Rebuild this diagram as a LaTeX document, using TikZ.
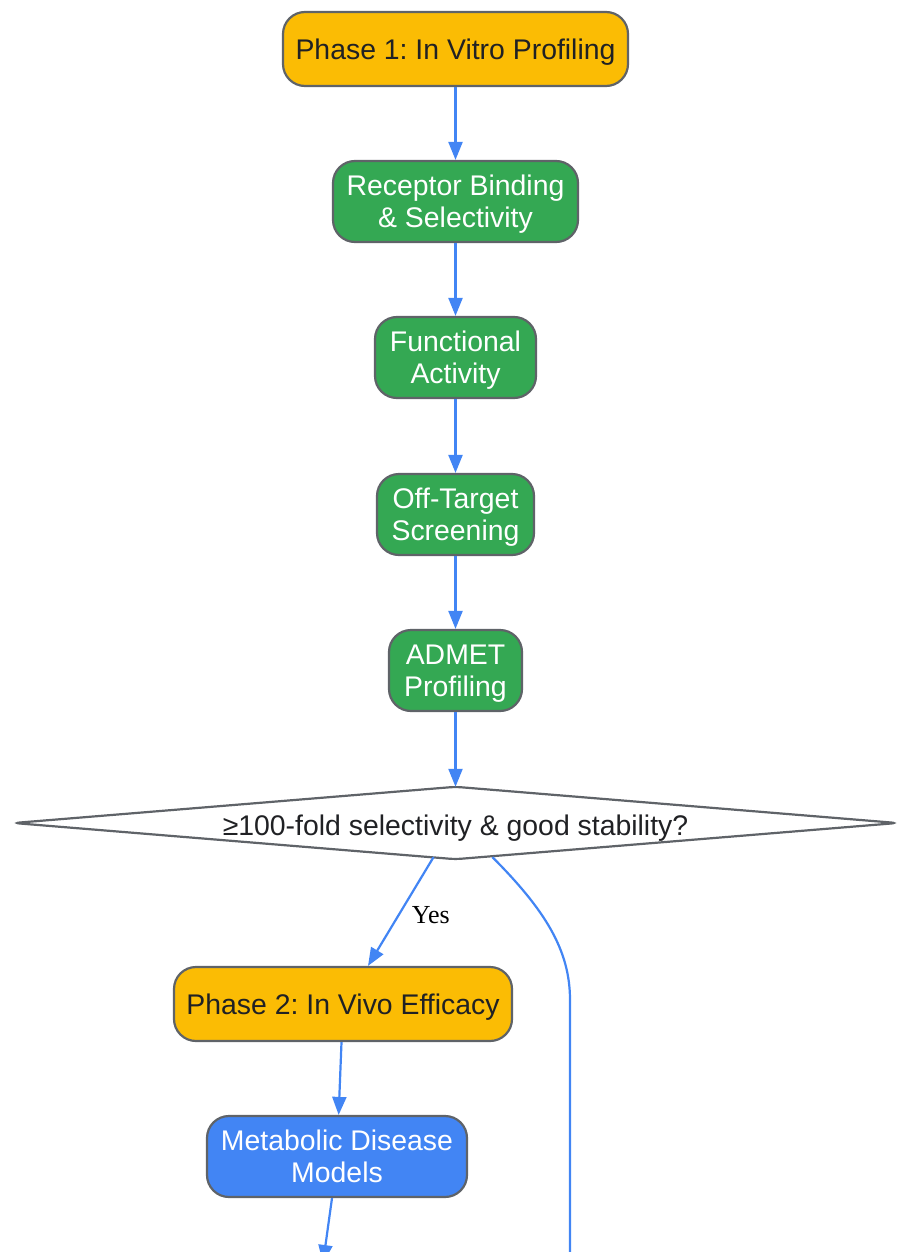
\documentclass[tikz,border=0pt]{standalone}
\usepackage{fontspec}
\setmainfont{Liberation Sans}
\newfontfamily\yesfont{Liberation Serif}
\frenchspacing
\usetikzlibrary{arrows.meta}
\definecolor{gyellow}{HTML}{FBBC04}
\definecolor{ggreen}{HTML}{34A853}
\definecolor{gblue}{HTML}{4285F4}
\definecolor{gborder}{HTML}{5F6368}
\definecolor{gtext}{HTML}{202124}
\tikzset{
  box/.style={draw=gborder, line width=2.2pt, rounded corners=22pt, align=center, inner sep=0pt,
    text depth=0pt, font=\fontsize{28.4}{32}\selectfont},
  phasebox/.style={box, fill=gyellow, text=gtext, minimum height=74pt},
  greenbox/.style={box, fill=ggreen, text=white, minimum height=81pt},
  bluebox/.style={box, fill=gblue, text=white, minimum height=81pt},
  decision/.style={inner sep=0pt, text=gtext, minimum width=883pt, minimum height=72pt,
    text depth=0pt, font=\fontsize{28.4}{32}\selectfont},
  decisionshape/.style={draw=gborder, line width=2.2pt, fill=white, rounded corners=6pt},
  flow/.style={draw=gblue, line width=2.2pt, -{Triangle[length=18pt,width=14pt]}},
  flowline/.style={draw=gblue, line width=2.2pt},
  yeslabel/.style={font=\yesfont\fontsize{26}{30}\selectfont, text=black, inner sep=0pt},
}
\begin{document}
\begin{tikzpicture}[x=1pt,y=-1pt]
\useasboundingbox (0,0) rectangle (905,1252);
\clip (0,0) rectangle (905,1252);
\node[phasebox, minimum width=345pt] (p1) at (455.5,49) {Phase 1: In Vitro Profiling};
\node[greenbox, minimum width=245pt] (rb) at (455.5,201.5) {Receptor Binding\\\& Selectivity};
\node[greenbox, minimum width=161pt] (fa) at (455.5,357.5) {Functional\\Activity};
\node[greenbox, minimum width=157pt] (ot) at (455.5,514.5) {Off-Target\\Screening};
\node[greenbox, minimum width=133pt] (ad) at (455.5,670.5) {ADMET\\Profiling};
\node[decision] (dec) at (455.5,823) {};
\draw[decisionshape] (dec.north) -- (dec.east) -- (dec.south) -- (dec.west) -- cycle;
\node[decision, minimum width=0pt, minimum height=0pt] (dectext) at ([yshift=-2pt]dec.center) {≥100-fold selectivity \& good stability?};
\node[phasebox, minimum width=338pt] (p2) at (343,1004) {Phase 2: In Vivo Efficacy};
\node[bluebox, minimum width=260pt] (met) at (337,1156.5) {Metabolic Disease\\Models};
\coordinate (endA) at (323,1263);
\coordinate (endB) at (570,1270);

\draw[flow] (p1) -- (rb);
\draw[flow] (rb) -- (fa);
\draw[flow] (fa) -- (ot);
\draw[flow] (ot) -- (ad);
\draw[flow] (ad) -- (dec.north);
\draw[flow] ([xshift=-22pt,yshift=2pt]dec.south) -- node[pos=0.5, anchor=west, xshift=10pt, yshift=-4pt, yeslabel]{Yes} ([xshift=25pt]p2.north);
\draw[flowline] ([xshift=37pt,yshift=2pt]dec.south) .. controls (545,910) and (570,950) .. (570,1000) -- (endB);
\draw[flow] (p2) -- (met);
\draw[flow] ([xshift=-5pt]met.south) -- (endA);
\end{tikzpicture}
\end{document}
